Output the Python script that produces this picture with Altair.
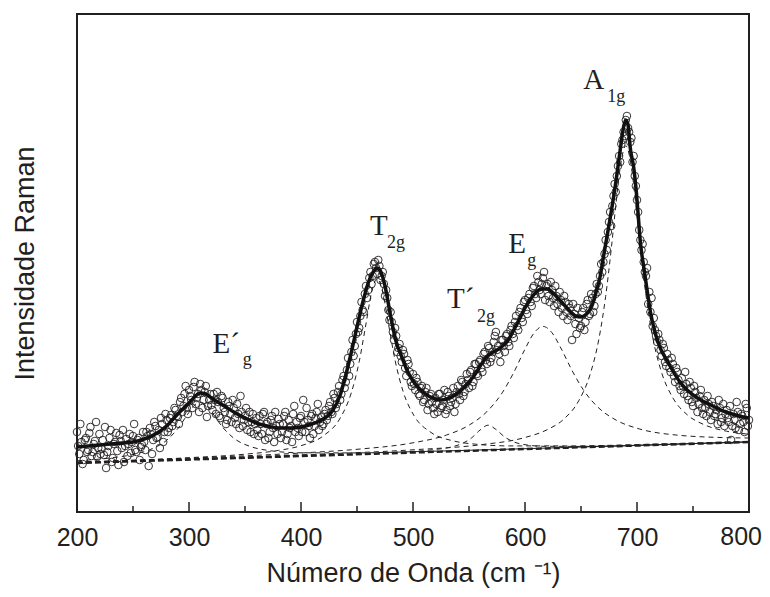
import altair as alt
import pandas as pd

# ---- measured spectrum (open circles), even wavenumbers ----
wavenumber_even = list(range(200, 802, 2))
intensity_even = [
    80, 58, 70, 52, 74, 62, 85, 60, 71, 55,
    78, 63, 57, 44, 66, 82, 54, 70, 61, 77,
    64, 50, 73, 68, 59, 76, 62, 72, 52, 67,
    70, 80, 46, 78, 72, 86, 75, 64, 88, 80,
    92, 84, 97, 90, 102, 95, 110, 100, 118, 104,
    122, 112, 125, 108, 118, 128, 104, 120, 95, 112,
    107, 118, 98, 110, 94, 114, 100, 92, 106, 90,
    104, 88, 98, 116, 86, 96, 82, 100, 90, 78,
    94, 76, 88, 98, 72, 90, 80, 96, 70, 86,
    93, 74, 88, 100, 78, 84, 70, 106, 90, 76,
    96, 112, 80, 92, 74, 98, 86, 100, 82, 95,
    88, 102, 96, 110, 98, 114, 108, 126, 118, 136,
    130, 154, 148, 172, 166, 190, 184, 210, 200, 226,
    222, 240, 236, 250, 238, 246, 236, 228, 222, 202,
    200, 180, 184, 160, 168, 150, 158, 136, 148, 130,
    138, 122, 130, 116, 126, 112, 124, 108, 118, 104,
    114, 100, 118, 106, 122, 102, 116, 110, 124, 108,
    126, 112, 130, 120, 138, 124, 142, 130, 148, 136,
    152, 140, 160, 148, 164, 154, 170, 180, 166, 150,
    172, 160, 178, 166, 186, 174, 196, 182, 204, 190,
    212, 198, 218, 206, 226, 214, 230, 218, 234, 212,
    228, 210, 222, 206, 216, 200, 212, 196, 210, 192,
    204, 172, 198, 178, 194, 186, 204, 190, 212, 198,
    214, 206, 228, 226, 248, 250, 272, 280, 300, 306,
    328, 336, 356, 368, 380, 392, 384, 370, 350, 336,
    312, 282, 262, 250, 236, 208, 200, 186, 182, 170,
    172, 156, 164, 146, 152, 140, 148, 130, 140, 126,
    134, 118, 128, 112, 124, 106, 120, 100, 116, 104,
    112, 96, 108, 92, 106, 98, 88, 104, 94, 86,
    102, 90, 72, 98, 84, 100, 88, 96, 80, 104,
    92,
]

# ---- measured spectrum (open circles), odd wavenumbers ----
wavenumber_odd = list(range(201, 800, 2))
intensity_odd = [
    66, 88, 48, 72, 60, 79, 56, 68, 90, 64,
    58, 72, 85, 60, 74, 50, 68, 79, 47, 71,
    82, 66, 56, 78, 70, 88, 60, 74, 65, 80,
    62, 76, 84, 58, 90, 74, 82, 94, 70, 98,
    80, 94, 86, 104, 96, 88, 114, 106, 126, 98,
    116, 104, 130, 114, 100, 122, 112, 126, 106, 118,
    102, 112, 120, 96, 116, 104, 88, 110, 98, 112,
    94, 108, 84, 100, 92, 104, 90, 80, 98, 88,
    82, 96, 78, 100, 88, 74, 92, 84, 100, 78,
    88, 80, 96, 72, 92, 86, 98, 80, 84, 94,
    80, 90, 104, 86, 96, 78, 94, 108, 90, 86,
    98, 92, 106, 100, 118, 104, 120, 112, 132, 124,
    142, 136, 160, 156, 178, 180, 196, 202, 218, 214,
    234, 228, 248, 244, 252, 232, 240, 216, 214, 192,
    190, 172, 176, 164, 156, 162, 144, 152, 140, 126,
    128, 134, 118, 124, 110, 120, 102, 116, 110, 98,
    108, 118, 104, 112, 98, 120, 106, 114, 100, 120,
    118, 132, 116, 128, 132, 140, 126, 148, 138, 150,
    144, 158, 152, 166, 150, 160, 176, 162, 158, 172,
    166, 176, 170, 182, 178, 190, 186, 200, 194, 210,
    202, 214, 210, 224, 218, 236, 222, 228, 240, 226,
    216, 230, 214, 226, 208, 220, 204, 216, 200, 208,
    196, 208, 188, 204, 184, 200, 182, 208, 196, 218,
    200, 218, 220, 236, 240, 258, 262, 290, 286, 316,
    320, 346, 350, 372, 376, 396, 380, 374, 356, 326,
    300, 272, 268, 240, 244, 220, 214, 194, 176, 178,
    162, 168, 150, 158, 144, 154, 136, 144, 132, 122,
    126, 140, 116, 130, 110, 126, 114, 108, 122, 98,
    104, 116, 100, 110, 96, 102, 112, 90, 108, 98,
    94, 106, 86, 92, 110, 82, 98, 90, 108, 86,
]

# ---- total fit (thick line) ----
fit_x = [200, 210, 220, 230, 240, 250, 260, 270, 280, 290, 300, 305, 310, 315, 320,
         330, 340, 350, 360, 370, 380, 390, 400, 410, 420, 428, 435, 440, 445, 450,
         455, 460, 465, 468, 471, 475, 480, 485, 490, 495, 500, 510, 520, 525, 530,
         540, 550, 555, 560, 565, 570, 575, 580, 585, 590, 595, 600, 605, 610, 615,
         620, 625, 630, 635, 640, 645, 650, 655, 660, 664, 667, 670, 675, 681, 685,
         688, 690, 692, 694, 697, 699, 701, 703, 706, 709, 712, 716, 720, 727, 739,
         750, 757, 766, 775, 785, 795, 800]
fit_y = [65, 66, 67, 68, 69, 70, 73, 78, 86, 98, 109, 115, 119, 118, 114,
         107, 100, 94, 89, 86, 84, 84, 85, 88, 93, 101, 117, 137, 160, 185,
         209, 229, 241, 244, 241, 226, 196, 170, 155, 141, 131, 119, 113, 112, 113,
         119, 130, 137, 146, 154, 159, 162, 166, 172, 182, 193, 204, 213, 220, 223,
         223, 219, 213, 207, 201, 196, 195, 198, 207, 222, 235, 255, 287, 329, 362,
         385, 392, 387, 364, 345, 325, 298, 270, 245, 222, 200, 180, 166, 151, 129,
         117, 112, 107, 102, 98, 95, 94]

# ---- linear background (thick dashed) ----
baseline_x = [200, 800]
baseline_y = [49, 70]

# ---- fitted components (thin dashed) ----
eg1_x = [200, 230, 250, 265, 280, 290, 300, 305, 310, 315, 320, 330, 340, 355, 370,
         400, 450, 500, 600, 700, 800]
eg1_y = [51.2, 54.1, 57.5, 62.3, 71.7, 83.4, 99.7, 106.9, 109.9, 107.2, 100.4, 84.8,
         73.8, 65.4, 61.7, 59.2, 59.1, 60.3, 63.3, 66.7, 70.1]

t2g_x = [200, 300, 350, 380, 400, 420, 435, 445, 452, 458, 463, 468, 473, 478, 484,
         491, 501, 516, 536, 556, 586, 636, 736, 800]
t2g_y = [49.7, 54.3, 57.8, 61.6, 66.3, 76.2, 93.9, 119.5, 150.6, 188.0, 219.3, 233.4,
         219.6, 188.7, 151.7, 121.1, 96.2, 79.6, 71.1, 67.8, 66.1, 66.1, 68.5, 70.5]

t2g1_x = [200, 400, 480, 517, 532, 542, 552, 560, 567, 574, 582, 592, 602, 617, 654,
          750, 800]
t2g1_y = [49.0, 56.2, 59.5, 62.2, 64.5, 67.6, 73.8, 82.1, 86.8, 82.6, 74.9, 69.3,
          67.0, 65.7, 65.6, 68.4, 70.1]

eg_x = [200, 300, 400, 450, 500, 530, 550, 566, 580, 590, 600, 608, 616, 624, 632,
        642, 652, 666, 682, 702, 732, 782, 800]
eg_y = [49.8, 53.9, 59.0, 62.7, 69.2, 77.0, 86.8, 100.4, 119.8, 139.6, 162.9, 178.9,
        185.6, 179.4, 164.0, 141.5, 122.3, 103.9, 91.5, 83.1, 77.3, 74.3, 74.0]

a1g_x = [200, 300, 400, 500, 560, 600, 620, 635, 648, 658, 666, 672, 677, 681, 685,
         690, 695, 699, 703, 708, 714, 722, 732, 745, 760, 780, 800]
a1g_y = [49.4, 53.1, 57.2, 62.2, 67.2, 74.5, 82.4, 93.2, 111.3, 137.1, 173.2, 215.5,
         262.9, 305.8, 344.5, 366.2, 344.8, 306.5, 263.8, 216.8, 174.9, 139.4, 114.2,
         97.1, 87.3, 80.8, 77.8]

# ---- peak labels ----
label_text = ["E\u00b4", "g", "T", "2g", "T\u00b4", "2g", "E", "g", "A", "1g"]
label_x = [321, 348, 461.6, 476.8, 530.3, 557.2, 585, 602, 652, 673.5]
label_y = [159, 147, 277, 264, 204, 190, 259, 246, 423, 410]
label_role = ["main", "sub", "main", "sub", "main", "sub", "main", "sub", "main", "sub"]

major_ticks = [200, 300, 400, 500, 600, 700, 800]
minor_ticks = [250, 350, 450, 550, 650, 750]
axis_labels_inner = [200, 300, 400, 500, 600, 700]
axis_label_last = [800]

# ---------------- build ----------------
W, H = 672, 498
INK = "#231f20"
LABEL_SIZE = 25

pts = pd.DataFrame({"x": wavenumber_even + wavenumber_odd,
                    "y": intensity_even + intensity_odd})
fit = pd.DataFrame({"x": fit_x, "y": fit_y})
base = pd.DataFrame({"x": baseline_x, "y": baseline_y})
comps = pd.concat([
    pd.DataFrame({"x": eg1_x, "y": eg1_y, "c": "Eg'"}),
    pd.DataFrame({"x": t2g_x, "y": t2g_y, "c": "T2g"}),
    pd.DataFrame({"x": t2g1_x, "y": t2g1_y, "c": "T2g'"}),
    pd.DataFrame({"x": eg_x, "y": eg_y, "c": "Eg"}),
    pd.DataFrame({"x": a1g_x, "y": a1g_y, "c": "A1g"}),
])
labels = pd.DataFrame({"x": label_x, "y": label_y, "t": label_text, "r": label_role})
majors = pd.DataFrame({"x": major_ticks})
minors = pd.DataFrame({"x": minor_ticks})
last_lab = pd.DataFrame({"x": axis_label_last, "t": [str(v) for v in axis_label_last]})

xscale = alt.Scale(domain=[200, 800], nice=False, zero=False)
yscale = alt.Scale(domain=[0, 498], nice=False, zero=False)

xaxis = alt.Axis(values=axis_labels_inner, format="d", domain=False, ticks=False,
                 tickSize=0, grid=False, labelFont="Liberation Sans",
                 labelFontSize=LABEL_SIZE, labelColor=INK, labelPadding=13,
                 labelFlush=False, labelOverlap=False,
                 titleFont="Liberation Sans", titleFontSize=27, titleFontWeight="normal",
                 titleColor=INK, titlePadding=10)
yaxis = alt.Axis(labels=False, domain=False, ticks=False, tickSize=0, grid=False,
                 titleFont="Liberation Sans", titleFontSize=27, titleFontWeight="normal",
                 titleColor=INK, titlePadding=38)

X = alt.X("x:Q", scale=xscale, axis=xaxis, title="Número de Onda (cm \u207b\u00b9)")
Y = alt.Y("y:Q", scale=yscale, axis=yaxis, title="Intensidade Raman")

points = alt.Chart(pts).mark_point(shape="circle", filled=False, size=58,
                                   stroke=INK, strokeWidth=0.9, opacity=1).encode(x=X, y=Y)

comp_lines = alt.Chart(comps).mark_line(interpolate="monotone", color=INK, strokeWidth=1,
                                        strokeDash=[5, 4]).encode(x=X, y=Y, detail="c:N")

base_line = alt.Chart(base).mark_line(color=INK, strokeWidth=2.5,
                                      strokeDash=[6, 3]).encode(x=X, y=Y)

fit_line = alt.Chart(fit).mark_line(interpolate="monotone", color="#111111",
                                    strokeWidth=3.5).encode(x=X, y=Y)

major_rule = alt.Chart(majors).mark_rule(color=INK, strokeWidth=1.5).encode(
    x=X, y=alt.value(H), y2=alt.value(H - 10))
minor_rule = alt.Chart(minors).mark_rule(color=INK, strokeWidth=1.5).encode(
    x=X, y=alt.value(H), y2=alt.value(H - 6))

# last tick label sits at the very edge of the figure: right-aligned so it is not cut
last_label = alt.Chart(last_lab).mark_text(
    font="Liberation Sans", fontSize=LABEL_SIZE, align="right", baseline="top",
    color=INK, dx=13
).encode(x=X, y=alt.value(H + 13), text="t:N")

main_txt = alt.Chart(labels).transform_filter(alt.datum.r == "main").mark_text(
    font="Liberation Serif", fontSize=29, align="left", baseline="alphabetic", color=INK
).encode(x=X, y=Y, text="t:N")
sub_txt = alt.Chart(labels).transform_filter(alt.datum.r == "sub").mark_text(
    font="Liberation Serif", fontSize=18, align="left", baseline="alphabetic", color=INK
).encode(x=X, y=Y, text="t:N")

chart = alt.layer(points, comp_lines, base_line, fit_line, major_rule, minor_rule,
                  last_label, main_txt, sub_txt).properties(
    width=W, height=H,
    autosize=alt.AutoSizeParams(type="none"),
    padding={"left": 69, "top": 6, "right": 13, "bottom": 77},
    background="white",
).configure_view(stroke=INK, strokeWidth=2)

chart.save("out.html", embed_options={"renderer": "svg", "actions": False})
